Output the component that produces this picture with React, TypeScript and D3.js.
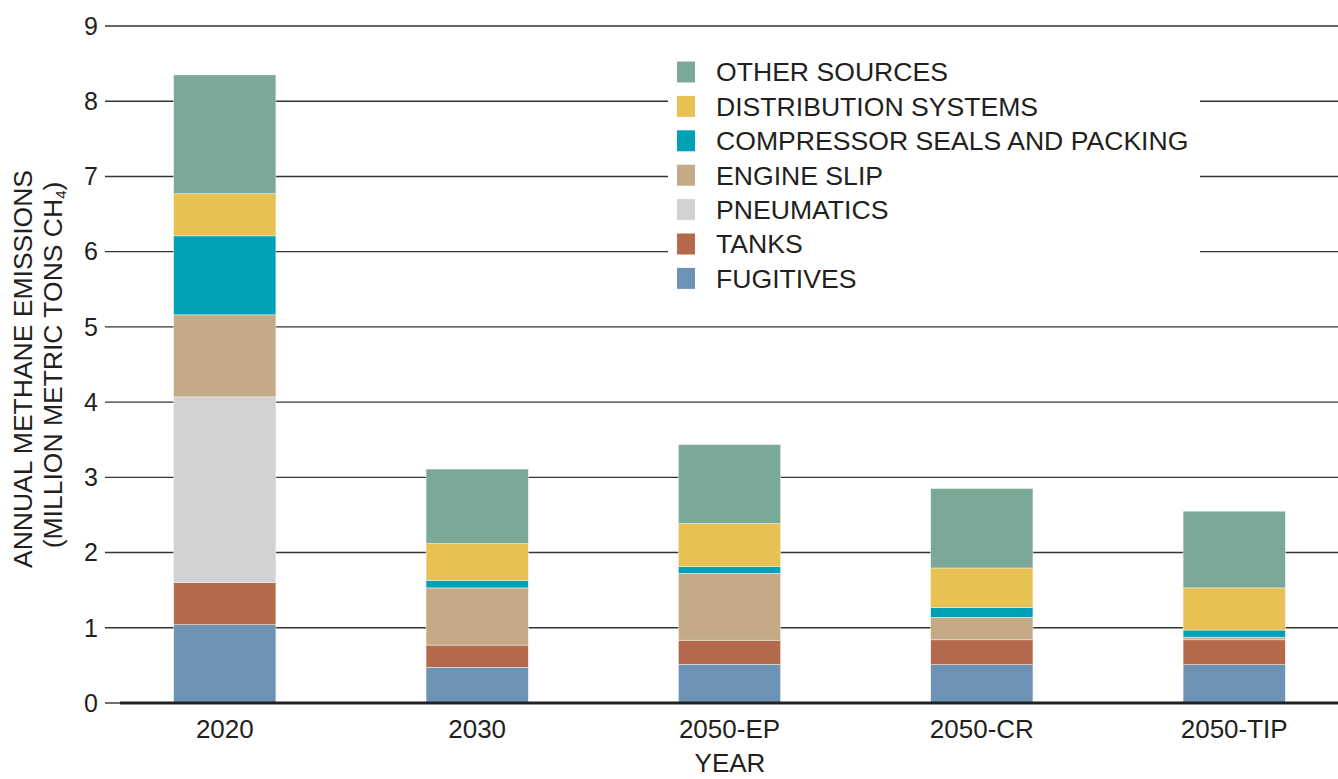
import React from "react";
import * as d3 from "d3";

const years = ["2020", "2030", "2050-EP", "2050-CR", "2050-TIP"];
const fugitives = [1.04, 0.475, 0.515, 0.51, 0.51];
const tanks = [0.56, 0.295, 0.32, 0.33, 0.33];
const pneumatics = [2.47, 0, 0, 0, 0];
const engineSlip = [1.09, 0.76, 0.89, 0.3, 0.035];
const compressor = [1.05, 0.1, 0.09, 0.13, 0.095];
const distribution = [0.56, 0.49, 0.57, 0.525, 0.56];
const otherSources = [1.58, 0.99, 1.05, 1.055, 1.02];
const yTicks = [0, 1, 2, 3, 4, 5, 6, 7, 8, 9];

const seriesKeys = ["fugitives", "tanks", "pneumatics", "engine", "compressor", "distribution", "other"];
const seriesLabels: Record<string, string> = {
  other: "OTHER SOURCES",
  distribution: "DISTRIBUTION SYSTEMS",
  compressor: "COMPRESSOR SEALS AND PACKING",
  engine: "ENGINE SLIP",
  pneumatics: "PNEUMATICS",
  tanks: "TANKS",
  fugitives: "FUGITIVES",
};
const colors: Record<string, string> = {
  other: "#7aa998",
  distribution: "#e8c153",
  compressor: "#00a1b6",
  engine: "#c5aa87",
  pneumatics: "#d1d2d4",
  tanks: "#b5694c",
  fugitives: "#6c92b6",
};
const legendOrder = ["other", "distribution", "compressor", "engine", "pneumatics", "tanks", "fugitives"];

const W = 1338;
const H = 779;
const FONT = "'Liberation Sans', Arial, Helvetica, sans-serif";
const TXT = "#231f20";

export default function App() {
  const table = years.map((yr, i) => ({
    year: yr,
    fugitives: fugitives[i],
    tanks: tanks[i],
    pneumatics: pneumatics[i],
    engine: engineSlip[i],
    compressor: compressor[i],
    distribution: distribution[i],
    other: otherSources[i],
  }));
  const stack = d3.stack<any>().keys(seriesKeys)(table);

  const x = d3.scaleBand<string>().domain(years).range([98, 1361]).paddingInner(0.595).paddingOuter(0.3);
  const y = d3.scaleLinear().domain([0, 9]).range([703, 26]);

  const legendX = 677;
  const legendY0 = 72;
  const legendStep = 34.4;

  return (
    <svg width={W} height={H} style={{ position: "absolute", left: 0, top: 0, background: "#fff" }} fontFamily={FONT}>
      {yTicks.map((t) =>
        t === 0 ? null : (
          <line key={t} x1={105} x2={W} y1={y(t)} y2={y(t)} stroke="#333" strokeWidth={1.4} />
        )
      )}
      <rect x={668} y={45} width={532} height={255} fill="#fff" />
      {stack.map((layer) => (
        <g key={layer.key} fill={colors[layer.key]}>
          {layer.map((d: any, i: number) =>
            d[1] - d[0] > 0 ? (
              <rect
                key={i}
                x={x(d.data.year)}
                width={x.bandwidth()}
                y={y(d[1])}
                height={y(d[0]) - y(d[1])}
                stroke="#f4f1ec"
                strokeWidth={0.5}
              />
            ) : null
          )}
        </g>
      ))}
      <line x1={105} x2={120} y1={y(0)} y2={y(0)} stroke="#333" strokeWidth={1.4} />
      <line x1={120} x2={W} y1={y(0)} y2={y(0)} stroke={TXT} strokeWidth={3} />
      {yTicks.map((t) => (
        <text key={t} x={98} y={y(t)} dy="0.35em" textAnchor="end" fontSize={25} fill={TXT}>
          {t}
        </text>
      ))}
      {years.map((yr) => (
        <text key={yr} x={(x(yr) as number) + x.bandwidth() / 2} y={738} textAnchor="middle" fontSize={26} fill={TXT}>
          {yr}
        </text>
      ))}
      <text x={730} y={772} textAnchor="middle" fontSize={26} fill={TXT}>
        YEAR
      </text>
      <text transform="translate(32,369) rotate(-90)" textAnchor="middle" fontSize={26.5} fill={TXT}>
        ANNUAL METHANE EMISSIONS
      </text>
      <text transform="translate(62,365) rotate(-90)" textAnchor="middle" fontSize={26.5} fill={TXT}>
        (MILLION METRIC TONS CH<tspan fontSize={15} dy={4}>4</tspan>
        <tspan dy={-4}>)</tspan>
      </text>
      {legendOrder.map((k, i) => (
        <g key={k} transform={`translate(${legendX},${legendY0 + i * legendStep})`}>
          <rect x={0} y={-10.5} width={18} height={21} fill={colors[k]} />
          <text x={39} y={0} dy="0.35em" fontSize={26.6} fill={TXT}>
            {seriesLabels[k]}
          </text>
        </g>
      ))}
    </svg>
  );
}
